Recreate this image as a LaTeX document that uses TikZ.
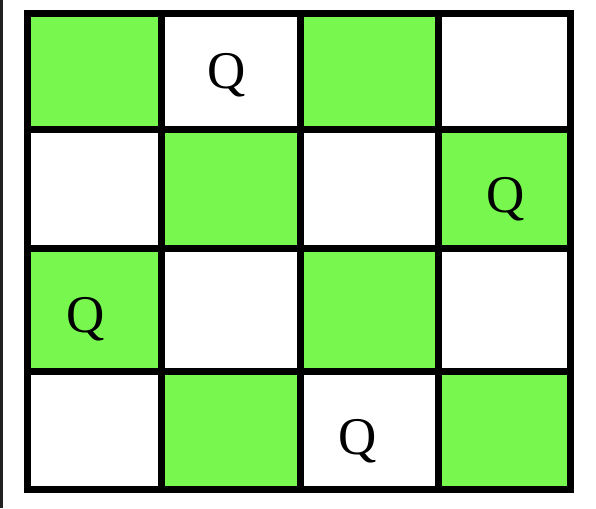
\documentclass[tikz,border=0pt]{standalone}
\usepackage{fontspec}
\setmainfont{Liberation Serif}
\definecolor{boardgreen}{RGB}{120,247,78}
\definecolor{edgebar}{RGB}{34,34,34}
\begin{document}
\begin{tikzpicture}[x=1pt,y=-1pt,
  grid/.style={draw=black,line width=7pt},
  greencell/.style={fill=boardgreen},
  queen/.style={font=\fontsize{53}{53}\selectfont,inner sep=0pt}]
\useasboundingbox[fill=white] (0,0) rectangle (596,508);
\fill[edgebar] (0,0) rectangle (3,508);
% column line centers
\def\xa{27.5}\def\xb{161.5}\def\xc{300}\def\xd{438.5}\def\xe{570}
\def\ya{13.5}\def\yb{129.5}\def\yc{248.5}\def\yd{371.5}\def\ye{489.5}
% green cells
\fill[greencell] (\xa,\ya) rectangle (\xb,\yb);
\fill[greencell] (\xc,\ya) rectangle (\xd,\yb);
\fill[greencell] (\xb,\yb) rectangle (\xc,\yc);
\fill[greencell] (\xd,\yb) rectangle (\xe,\yc);
\fill[greencell] (\xa,\yc) rectangle (\xb,\yd);
\fill[greencell] (\xc,\yc) rectangle (\xd,\yd);
\fill[greencell] (\xb,\yd) rectangle (\xc,\ye);
\fill[greencell] (\xd,\yd) rectangle (\xe,\ye);
% grid
\draw[grid] (\xa,\ya) rectangle (\xe,\ye);
\foreach \x in {\xb,\xc,\xd} \draw[grid] (\x,\ya) -- (\x,\ye);
\foreach \y in {\yb,\yc,\yd} \draw[grid] (\xa,\y) -- (\xe,\y);
% queens
\node[queen] (q1) at (227,75) {Q};
\node[queen] (q2) at (506,199) {Q};
\node[queen] (q3) at (86,319) {Q};
\node[queen] (q4) at (358,441) {Q};
\end{tikzpicture}
\end{document}
